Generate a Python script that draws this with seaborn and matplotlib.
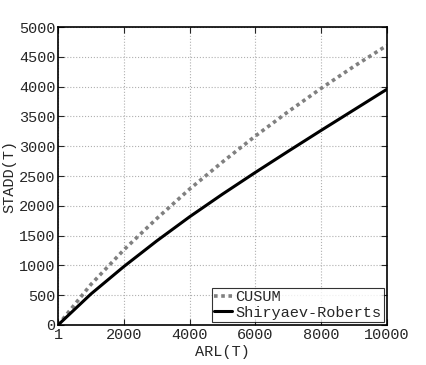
import numpy as np
import pandas as pd
import matplotlib
matplotlib.use("Agg")
import matplotlib.pyplot as plt
import seaborn as sns

# values
arl = [1, 1000, 2000, 3000, 4000, 5000, 6000, 7000, 8000, 9000, 10000]
cusum = [0, 680, 1260, 1785, 2280, 2735, 3170, 3580, 3970, 4340, 4690]
shiryaev = [0, 520, 980, 1410, 1815, 2195, 2560, 2915, 3265, 3610, 3955]

df = pd.DataFrame({
    "ARL": arl * 2,
    "STADD": cusum + shiryaev,
    "method": ["CUSUM"] * len(arl) + ["Shiryaev-Roberts"] * len(arl),
})

sns.set_style("white")
plt.rcParams["font.family"] = ["Liberation Mono", "DejaVu Sans Mono"]
plt.rcParams["xtick.direction"] = "in"
plt.rcParams["ytick.direction"] = "in"

fig = plt.figure(figsize=(4.27, 3.65), dpi=100)
ax = fig.add_axes([0.136, 0.1096, 0.77, 0.8164])

sns.lineplot(data=df, x="ARL", y="STADD", hue="method", style="method",
             palette={"CUSUM": "#808080", "Shiryaev-Roberts": "black"},
             dashes={"CUSUM": (1, 1), "Shiryaev-Roberts": ""},
             ax=ax, legend=False)
lines = ax.get_lines()
lines[0].set_linewidth(2.6)
lines[1].set_linewidth(2.2)

ax.set_xlim(1, 10000)
ax.set_ylim(0, 5000)
ax.set_xticks([1, 2000, 4000, 6000, 8000, 10000])
ax.set_xticklabels(["1", "2000", "4000", "6000", "8000", "10000"])
ax.set_yticks(np.arange(0, 5001, 500))
ax.tick_params(labelsize=11, length=4, width=0.8, top=True, right=True,
               bottom=True, left=True, pad=2)
ax.grid(True, linestyle=":", color="#b0b0b0", linewidth=0.8)
for s in ax.spines.values():
    s.set_color("black")
    s.set_linewidth(1.2)

ax.set_xlabel("ARL(T)", fontsize=11, labelpad=2)
ax.set_ylabel("STADD(T)", fontsize=11, labelpad=2)

leg = ax.legend(lines, ["CUSUM", "Shiryaev-Roberts"], loc="lower right",
                fontsize=11, frameon=True, fancybox=False, borderaxespad=0.2,
                handlelength=1.2, handletextpad=0.2, borderpad=0.15,
                labelspacing=0.1)
leg.get_frame().set_edgecolor("black")
leg.get_frame().set_linewidth(0.8)

fig.savefig("out.png", dpi=100)
